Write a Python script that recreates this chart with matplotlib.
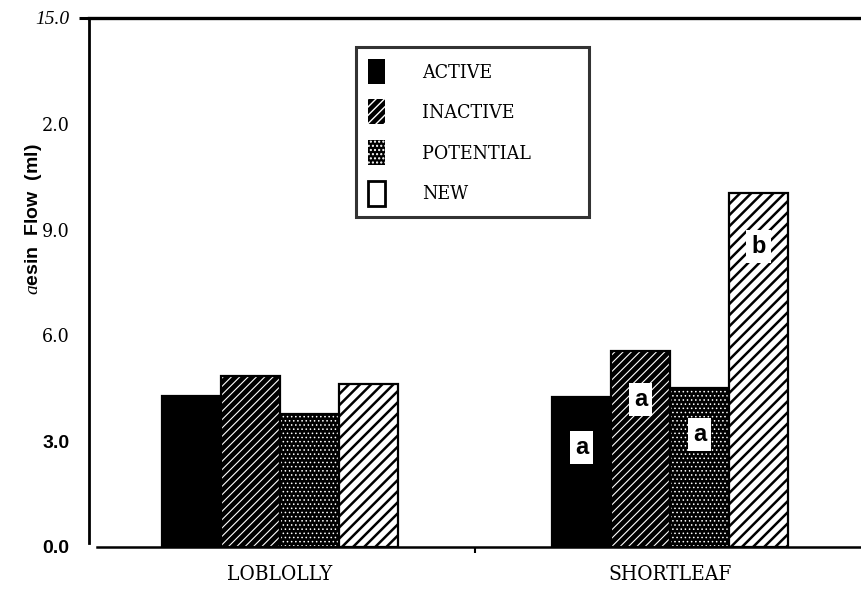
import matplotlib
matplotlib.use("Agg")
import matplotlib.pyplot as plt
from matplotlib.patches import Patch
import numpy as np

# data
species = ["LOBLOLLY", "SHORTLEAF"]
classes = ["ACTIVE", "INACTIVE", "POTENTIAL", "NEW"]
active = [4.29, 4.26]
inactive = [4.86, 5.57]
potential = [3.78, 4.52]
new = [4.63, 10.03]
# letters printed inside the shortleaf bars
sig_letters = ["a", "a", "a", "b"]
sig_y = [2.81, 4.18, 3.18, 8.52]

ytick_vals = [0, 3, 6, 9, 12, 15]
ytick_text = ["0.0", "3.0", "6.0", "9.0", "2.0", "15.0"]

plt.rcParams["mathtext.fontset"] = "custom"
plt.rcParams["mathtext.it"] = "Liberation Serif:italic"

fig = plt.figure(figsize=(8.62, 5.98), dpi=100)
ax = fig.add_axes([0.1032, 0.0853, 0.8968, 0.8847])

x = np.arange(len(species))
w = 0.151
series = [active, inactive, potential, new]
# (face, hatch colour, hatch, hatch width)
styles = [("black", "black", None, 1.0),
          ("black", "white", "////", 0.8),
          ("black", "white", "....", 0.6),
          ("white", "black", "///", 1.8)]

for i, (vals, (fc, hc, ht, hw)) in enumerate(zip(series, styles)):
    pos = x + (i - 1.5) * w
    with plt.rc_context({"hatch.linewidth": hw}):
        ax.bar(pos, vals, w, color=fc, edgecolor=hc, hatch=ht, linewidth=0)
    ax.bar(pos, vals, w, fill=False, edgecolor="black", linewidth=1.6)

# significance letters on shortleaf
for i, (lab, yy) in enumerate(zip(sig_letters, sig_y)):
    ax.text(x[1] + (i - 1.5) * w, yy, lab, ha="center", va="center",
            fontsize=17, fontweight="bold", family="Liberation Sans",
            bbox=dict(facecolor="white", edgecolor="none", pad=3.5))

ax.set_xlim(-0.49, 1.492)
ax.set_ylim(0, 15)

ax.set_xticks(x)
ax.set_xticklabels(species, family="DejaVu Serif", stretch="condensed", fontsize=15)
ax.set_xticks([0.5], minor=True)
ax.tick_params(axis="x", which="major", length=0, pad=13)
ax.tick_params(axis="x", which="minor", length=4, width=1.5, direction="out")

ax.set_yticks(ytick_vals)
ax.set_yticklabels(ytick_text)
ax.tick_params(axis="y", length=0, pad=14)
ax.yaxis.get_major_ticks()[-1].tick1line.set_markersize(7)
ax.yaxis.get_major_ticks()[-1].tick1line.set_markeredgewidth(2.2)
for lab in ax.get_yticklabels():
    t = lab.get_text()
    if t in ("0.0", "3.0"):
        lab.set_family("Liberation Sans")
        lab.set_fontweight("bold")
        lab.set_fontsize(14)
    elif t == "15.0":
        lab.set_family("Liberation Serif")
        lab.set_style("italic")
        lab.set_fontsize(14)
    else:
        lab.set_family("DejaVu Serif")
        lab.set_stretch("condensed")
        lab.set_fontsize(14)

ax.set_ylabel(r"$a$esin  Flow  (ml)", family="Liberation Sans", fontweight="bold",
              fontsize=14)
ax.yaxis.set_label_coords(-0.058, 0.62)

ax.spines["right"].set_visible(False)
ax.spines["top"].set_linewidth(2.4)
ax.spines["left"].set_linewidth(2.0)
ax.spines["bottom"].set_linewidth(1.8)
ax.spines["left"].set_bounds(0.1, 15)
ax.spines["bottom"].set_bounds(-0.47, 1.492)

handles = []
for fc, hc, ht, hw in styles[:3]:
    with plt.rc_context({"hatch.linewidth": hw}):
        handles.append(Patch(facecolor=fc, edgecolor=hc, hatch=ht, linewidth=0))
handles.append(Patch(facecolor="white", edgecolor="black", linewidth=2))
leg = fig.legend(handles, classes, loc="upper left",
                 bbox_to_anchor=(0.413, 0.640, 0.270, 0.281), mode="expand",
                 borderaxespad=0, fancybox=False, frameon=True,
                 handlelength=0.9, handleheight=1.6, handletextpad=1.9,
                 labelspacing=0.8, borderpad=0.6,
                 prop=dict(family="DejaVu Serif", stretch="condensed", size=14))
leg.get_frame().set_edgecolor("black")
leg.get_frame().set_linewidth(2.2)

fig.savefig("out.png", dpi=100)
